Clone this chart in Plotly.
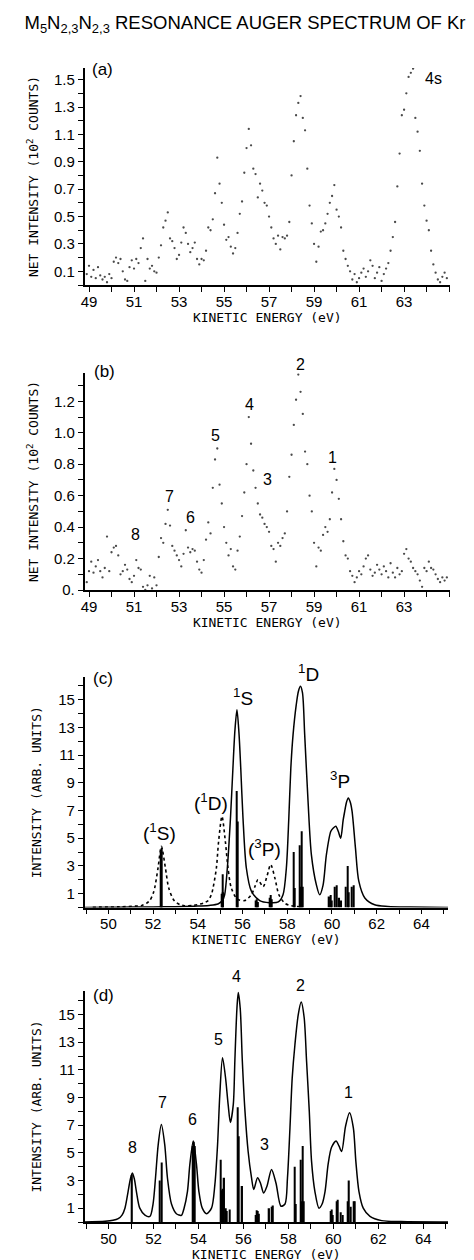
import plotly.graph_objects as go

# ---------------- data ----------------
# (a), (b): measured net intensity (10^2 counts) on a 0.1 eV grid starting at 48.9 eV
AB_START = 48.9
AB_STEP = 0.1
a_counts = [
    0.08, 0.14, 0.06, 0.11, 0.05, 0.13, 0.07, 0.04, 0.06, 0.02,
    0.08, 0.05, 0.17, 0.20, 0.16, 0.19, 0.10, 0.04, 0.03, 0.13,
    0.18, 0.12, 0.19, 0.16, 0.27, 0.34, 0.03, 0.19, 0.12, 0.14,
    0.10, 0.09, 0.20, 0.29, 0.42, 0.47, 0.53, 0.34, 0.32, 0.27,
    0.19, 0.22, 0.31, 0.42, 0.38, 0.30, 0.24, 0.27, 0.31, 0.19,
    0.15, 0.19, 0.18, 0.25, 0.42, 0.40, 0.48, 0.67, 0.93, 0.74,
    0.60, 0.44, 0.33, 0.35, 0.28, 0.23, 0.27, 0.38, 0.52, 0.61,
    0.82, 1.00, 1.14, 1.02, 0.85, 0.81, 0.64, 0.74, 0.69, 0.60,
    0.58, 0.50, 0.42, 0.34, 0.30, 0.36, 0.26, 0.35, 0.34, 0.36,
    0.46, 0.80, 1.05, 1.24, 1.33, 1.38, 1.22, 1.13, 0.85, 0.58,
    0.45, 0.30, 0.17, 0.28, 0.39, 0.40, 0.45, 0.52, 0.60, 0.65,
    0.73, 0.55, 0.50, 0.42, 0.25, 0.19, 0.14, 0.10, 0.04, 0.08,
    0.02, 0.05, 0.09, 0.12, 0.06, 0.10, 0.18, 0.14, 0.05, 0.09,
    0.13, 0.03, 0.08, 0.12, 0.16, 0.25, 0.35, 0.46, 0.72, 0.96,
    1.24, 1.28, 1.40, 1.52, 1.55, 1.58, 1.22, 1.12, 0.98, 0.74,
    0.58, 0.47, 0.40, 0.25, 0.15, 0.09, 0.04, 0.02, 0.06, 0.09,
    0.05,
]
b_counts = [
    0.05, 0.12, 0.18, 0.11, 0.15, 0.19, 0.12, 0.08, 0.14, 0.34,
    0.12, 0.24, 0.27, 0.28, 0.22, 0.10, 0.12, 0.16, 0.13, 0.07,
    0.05, 0.09, 0.19, 0.14, 0.13, 0.02, 0.00, 0.03, 0.09, 0.01,
    0.08, 0.03, 0.21, 0.33, 0.30, 0.42, 0.51, 0.41, 0.28, 0.25,
    0.22, 0.19, 0.15, 0.23, 0.38, 0.27, 0.24, 0.26, 0.25, 0.18,
    0.13, 0.11, 0.19, 0.32, 0.43, 0.36, 0.65, 0.83, 0.90, 0.67,
    0.55, 0.40, 0.30, 0.22, 0.26, 0.15, 0.13, 0.25, 0.34, 0.47,
    0.62, 0.80, 1.10, 0.93, 0.76, 0.65, 0.55, 0.48, 0.46, 0.42,
    0.40, 0.37, 0.28, 0.26, 0.18, 0.30, 0.28, 0.33, 0.36, 0.50,
    0.72, 0.86, 1.05, 1.21, 1.37, 1.26, 1.12, 0.88, 0.80, 0.60,
    0.50, 0.30, 0.15, 0.27, 0.25, 0.35, 0.40, 0.37, 0.45, 0.62,
    0.77, 0.70, 0.58, 0.45, 0.31, 0.22, 0.20, 0.12, 0.09, 0.05,
    0.08, 0.12, 0.10, 0.15, 0.20, 0.22, 0.13, 0.09, 0.11, 0.16,
    0.13, 0.10, 0.15, 0.12, 0.08, 0.17, 0.11, 0.08, 0.14, 0.10,
    0.12, 0.23, 0.26, 0.20, 0.18, 0.14, 0.12, 0.10, 0.06, 0.02,
    0.14, 0.12, 0.18, 0.14, 0.13, 0.10, 0.07, 0.05, 0.08, 0.06,
    0.08,
]
ab_energy = [round(AB_START + i * AB_STEP, 2) for i in range(len(a_counts))]

# (c): calculated spectrum, solid (main lines), dotted (satellites), sticks
c_solid_energy = [48.94, 50.0, 51.0, 52.0, 53.0, 54.0, 54.5, 54.9, 55.1, 55.2,
                  55.32, 55.46, 55.57, 55.66, 55.75, 55.84, 55.92, 56.02, 56.17, 56.39,
                  56.77, 57.2, 57.6, 57.81, 57.96, 58.07, 58.16, 58.26, 58.4, 58.5,
                  58.59, 58.68, 58.78, 58.93, 59.08, 59.3, 59.45, 59.6, 59.75, 59.95,
                  60.07, 60.17, 60.28, 60.39, 60.5, 60.57, 60.65, 60.73, 60.82, 60.9,
                  61.05, 61.2, 61.47, 61.91, 62.5, 63.5, 65.2]
c_solid_int = [0.0, 0.02, 0.03, 0.04, 0.06, 0.1, 0.15, 0.25, 0.5, 0.92,
               2.85, 6.46, 10.06, 12.8, 14.27, 12.6, 10.06, 6.46, 2.85, 1.2,
               0.5, 0.35, 0.4, 0.92, 2.85, 6.46, 10.06, 12.47, 14.6, 15.6,
               15.96, 15.5, 12.47, 7.66, 3.8, 1.65, 0.92, 1.6, 3.8, 5.5,
               5.75, 5.86, 5.5, 5.0, 6.3, 6.94, 7.6, 7.9, 7.6, 6.94,
               4.3, 1.9, 0.69, 0.2, 0.08, 0.03, 0.0]
c_dot_energy = [49.3, 50.5, 51.2, 51.47, 51.7, 51.85, 52.0, 52.07, 52.22, 52.37,
                52.55, 52.7, 52.94, 53.2, 53.41, 53.8, 54.1, 54.3, 54.46, 54.6,
                54.68, 54.83, 54.93, 55.08, 55.23, 55.35, 55.5, 55.77, 56.1, 56.39,
                56.55, 56.69, 56.92, 57.1, 57.26, 57.45, 57.63, 57.9, 58.2, 58.6]
c_dot_int = [0.02, 0.05, 0.1, 0.13, 0.3, 0.5, 1.0, 1.4, 2.85, 4.41,
             2.85, 1.4, 0.5, 0.2, 0.13, 0.15, 0.25, 0.35, 0.5, 0.9,
             1.4, 2.85, 4.78, 6.58, 4.78, 2.85, 1.4, 0.6, 0.5, 0.92,
             1.5, 2.0, 1.5, 2.3, 3.1, 2.1, 0.9, 0.3, 0.12, 0.05]
c_stick_energy = [52.34, 52.38, 55.06, 55.1, 55.14, 55.75, 55.79, 56.6, 56.65, 56.7,
                  57.2, 57.25, 57.3, 58.29, 58.33, 58.56, 58.6, 58.65, 58.69, 59.88,
                  59.93, 59.98, 60.14, 60.2, 60.33, 60.42, 60.63, 60.7, 60.76, 60.9,
                  60.96]
c_stick_int = [4.0, 4.3, 1.0, 2.4, 1.1, 8.4, 6.2, 0.5, 0.6, 0.4,
               0.7, 0.9, 0.6, 4.0, 1.4, 4.5, 1.5, 5.5, 1.5, 0.8,
               0.9, 0.5, 1.5, 1.6, 0.7, 0.5, 1.5, 3.0, 1.1, 1.5,
               1.6]

# (d): total calculated spectrum and sticks
d_curve_energy = [48.94, 49.84, 50.2, 50.43, 50.6, 50.73, 50.87, 50.97, 51.06, 51.15,
                  51.24, 51.39, 51.62, 51.84, 51.98, 52.09, 52.21, 52.35, 52.5, 52.62,
                  52.8, 53.02, 53.24, 53.36, 53.51, 53.62, 53.77, 53.91, 54.02, 54.17,
                  54.36, 54.58, 54.73, 54.85, 54.95, 55.07, 55.2, 55.32, 55.42, 55.55,
                  55.62, 55.71, 55.77, 55.86, 55.95, 56.07, 56.21, 56.36, 56.46, 56.63,
                  56.76, 56.9, 57.05, 57.25, 57.45, 57.67, 57.85, 57.96, 58.07, 58.17,
                  58.29, 58.44, 58.57, 58.7, 58.81, 58.93, 59.03, 59.18, 59.36, 59.5,
                  59.63, 59.77, 59.92, 60.12, 60.25, 60.37, 60.54, 60.72, 60.89, 61.0,
                  61.14, 61.33, 61.63, 62.15, 63.0, 65.1]
d_curve_int = [0.0, 0.05, 0.12, 0.24, 0.5, 1.0, 2.2, 3.1, 3.55, 3.1,
               2.2, 1.0, 0.5, 0.4, 1.3, 3.2, 5.6, 7.05, 5.6, 3.2,
               1.3, 0.6, 0.48, 1.0, 2.2, 4.2, 5.85, 4.2, 2.2, 1.0,
               0.6, 1.0, 2.7, 5.6, 9.2, 11.88, 10.5, 8.5, 7.2, 8.5,
               11.7, 15.4, 16.6, 15.4, 11.7, 8.0, 5.1, 3.2, 2.35, 3.2,
               2.8, 2.1, 2.6, 3.8, 2.8, 1.14, 1.3, 3.2, 6.8, 10.4,
               12.8, 15.0, 15.9, 14.8, 11.6, 8.0, 4.4, 2.2, 1.0, 1.3,
               2.2, 4.2, 5.4, 5.86, 5.5, 5.1, 6.9, 7.9, 6.8, 4.4,
               2.2, 1.0, 0.4, 0.1, 0.03, 0.0]
d_stick_energy = [51.05, 52.27, 52.36, 53.74, 53.78, 53.82, 54.99, 55.06, 55.1, 55.15,
                  55.2, 55.25, 55.4, 55.74, 55.8, 55.95, 56.55, 56.6, 56.65, 56.7,
                  57.15, 57.25, 57.32, 58.29, 58.33, 58.56, 58.6, 58.65, 58.69, 59.88,
                  59.93, 59.98, 60.14, 60.2, 60.33, 60.42, 60.63, 60.7, 60.76, 60.9,
                  60.96]
d_stick_int = [3.4, 3.0, 4.3, 5.5, 5.8, 5.5, 4.5, 2.3, 2.4, 3.2,
               1.0, 0.8, 0.9, 8.3, 6.2, 2.6, 0.5, 0.85, 0.8, 0.6,
               1.0, 1.1, 1.2, 4.0, 1.3, 4.5, 1.5, 5.5, 1.5, 0.8,
               0.9, 0.5, 1.5, 1.6, 0.7, 0.5, 1.5, 3.0, 1.1, 1.5,
               1.5]

# labelled tick values / labels (unlabelled ticks are drawn as minor ticks)
ab_xtick_vals = [49, 51, 53, 55, 57, 59, 61, 63]
ab_xtick_text = ["49", "51", "53", "55", "57", "59", "61", "63"]
cd_xtick_vals = [50, 52, 54, 56, 58, 60, 62, 64]
cd_xtick_text = ["50", "52", "54", "56", "58", "60", "62", "64"]
a_ytick_vals = [0.1, 0.3, 0.5, 0.7, 0.9, 1.1, 1.3, 1.5]
a_ytick_text = ["0.1", "0.3", "0.5", "0.7", "0.9", "1.1", "1.3", "1.5"]
b_ytick_vals = [0.0, 0.2, 0.4, 0.6, 0.8, 1.0, 1.2]
b_ytick_text = ["0.", "0.2", "0.4", "0.6", "0.8", "1.0", "1.2"]
cd_ytick_vals = [1, 3, 5, 7, 9, 11, 13, 15]
cd_ytick_text = ["1", "3", "5", "7", "9", "11", "13", "15"]

# peak labels: (text, energy, intensity)
a_labels = [("(a)", 49.62, 1.575), ("4s", 64.29, 1.505)]
b_labels = [("(b)", 49.71, 1.39), ("2", 58.38, 1.436), ("4", 56.12, 1.18), ("5", 54.62, 0.983),
            ("1", 59.84, 0.842), ("3", 56.92, 0.70), ("7", 52.58, 0.593), ("6", 53.51, 0.459),
            ("8", 51.08, 0.351)]
c_labels = [("(c)", 49.76, 16.49), ("<sup>1</sup>S", 56.0, 15.2), ("<sup>1</sup>D", 58.94, 16.9),
            ("<sup>3</sup>P", 60.35, 9.2), ("(<sup>1</sup>D)", 54.6, 7.6), ("(<sup>1</sup>S)", 52.3, 5.45),
            ("(<sup>3</sup>P)", 57.0, 4.3)]
d_labels = [("(d)", 49.76, 16.38), ("4", 55.71, 17.73), ("2", 58.54, 17.08), ("5", 54.88, 13.21),
            ("1", 60.69, 9.35), ("7", 52.39, 8.62), ("6", 53.73, 7.41), ("3", 56.92, 5.6),
            ("8", 51.08, 5.36)]

TITLE = "M<sub>5</sub>N<sub>2,3</sub>N<sub>2,3</sub> RESONANCE AUGER SPECTRUM OF Kr"

# ---------------- layout geometry ----------------
W, H = 474, 1260
L, R, T, B = 76, 32, 40, 46
PW, PH = W - L - R, H - T - B


def dom_x(p0, p1):
    return [max(0.0, (p0 - L) / PW), min(1.0, (p1 - L) / PW)]


def dom_y(top, bot):
    return [max(0.0, (H - B - bot) / PH), min(1.0, (H - B - top) / PH)]


TICK_FONT = dict(family="Liberation Sans", size=15, color="black")
AX_FONT = dict(family="DejaVu Sans Mono", size=13, color="black")


def minor_cfg(step, start):
    return dict(dtick=step, tick0=start, ticks="outside", ticklen=5, tickwidth=1.2,
                tickcolor="black", showgrid=False)


def xcfg(domain, rng, vals, text, anchor):
    return dict(domain=domain, range=rng, anchor=anchor, showline=True, linecolor="black",
                linewidth=1.5, ticks="outside", ticklen=5, tickwidth=1.2, tickcolor="black",
                tickmode="array", tickvals=vals, ticktext=text, tickfont=TICK_FONT,
                ticklabelstandoff=-3, minor=minor_cfg(1, 49),
                showgrid=False, zeroline=False, automargin=False,
                title=dict(text="KINETIC ENERGY (eV)", font=AX_FONT, standoff=0))


def ycfg(domain, rng, vals, text, anchor, title, standoff, step):
    return dict(domain=domain, range=rng, anchor=anchor, showline=True, linecolor="black",
                linewidth=1.5, ticks="outside", ticklen=5, tickwidth=1.2, tickcolor="black",
                tickmode="array", tickvals=vals, ticktext=text, tickfont=TICK_FONT,
                minor=minor_cfg(step, 0),
                showgrid=False, zeroline=False, automargin=False,
                title=dict(text=title, font=AX_FONT, standoff=standoff))


fig = go.Figure()

dot_marker = dict(size=2.3, color="#4a4a4a")
fig.add_trace(go.Scatter(x=ab_energy, y=a_counts, mode="markers", marker=dot_marker,
                         xaxis="x", yaxis="y", showlegend=False))
fig.add_trace(go.Scatter(x=ab_energy, y=b_counts, mode="markers", marker=dot_marker,
                         xaxis="x2", yaxis="y2", showlegend=False))

bar_kw = dict(marker=dict(color="black", line=dict(width=0)), width=0.06, showlegend=False)
fig.add_trace(go.Bar(x=c_stick_energy, y=c_stick_int, xaxis="x3", yaxis="y3", **bar_kw))
fig.add_trace(go.Scatter(x=c_dot_energy, y=c_dot_int, mode="lines",
                         line=dict(color="black", width=1.6, dash="dot", shape="spline", smoothing=0.8),
                         xaxis="x3", yaxis="y3", showlegend=False))
fig.add_trace(go.Scatter(x=c_solid_energy, y=c_solid_int, mode="lines",
                         line=dict(color="black", width=1.5, shape="spline", smoothing=0.8),
                         xaxis="x3", yaxis="y3", showlegend=False))

fig.add_trace(go.Bar(x=d_stick_energy, y=d_stick_int, xaxis="x4", yaxis="y4", **bar_kw))
fig.add_trace(go.Scatter(x=d_curve_energy, y=d_curve_int, mode="lines",
                         line=dict(color="black", width=1.5, shape="spline", smoothing=0.8),
                         xaxis="x4", yaxis="y4", showlegend=False))

ab_xdom = dom_x(76.5, 442)
cd_xdom = dom_x(76.7, 440)
ab_xrange = [48.8, 65.04]
cd_xrange = [48.94, 65.19]
a_yrange = [0, 1.585]
b_yrange = [0, 1.38]
c_yrange = [0, 16.63]
d_yrange = [0, 16.7]

fig.update_layout(
    width=W, height=H, autosize=False,
    margin=dict(l=L, r=R, t=T, b=B),
    paper_bgcolor="white", plot_bgcolor="white",
    barmode="overlay", template="none",
    title=dict(text=TITLE, x=0.5, xanchor="center", y=1 - 15 / H, yanchor="middle",
               font=dict(family="Liberation Sans", size=18.5, color="black")),
    xaxis=xcfg(ab_xdom, ab_xrange, ab_xtick_vals, ab_xtick_text, "y"),
    yaxis=ycfg(dom_y(60, 277), a_yrange, a_ytick_vals, a_ytick_text, "x",
               "NET INTENSITY (10<sup>2</sup> COUNTS)", 12, 0.1),
    xaxis2=xcfg(ab_xdom, ab_xrange, ab_xtick_vals, ab_xtick_text, "y2"),
    yaxis2=ycfg(dom_y(365, 582), b_yrange, b_ytick_vals, b_ytick_text, "x2",
                "NET INTENSITY (10<sup>2</sup> COUNTS)", 12, 0.1),
    xaxis3=xcfg(cd_xdom, cd_xrange, cd_xtick_vals, cd_xtick_text, "y3"),
    yaxis3=ycfg(dom_y(669, 899.5), c_yrange, cd_ytick_vals, cd_ytick_text, "x3",
                "INTENSITY (ARB. UNITS)", 14, 1),
    xaxis4=xcfg(cd_xdom, [48.94, 65.1], cd_xtick_vals, cd_xtick_text, "y4"),
    yaxis4=ycfg(dom_y(983, 1214), d_yrange, cd_ytick_vals, cd_ytick_text, "x4",
                "INTENSITY (ARB. UNITS)", 14, 1),
)

annotations = []
for labels, xr, yr, yrng in [(a_labels, "x", "y", a_yrange), (b_labels, "x2", "y2", b_yrange),
                             (c_labels, "x3", "y3", c_yrange), (d_labels, "x4", "y4", d_yrange)]:
    for text, ex, iy in labels:
        size = 17 if text.startswith("(") and len(text) == 3 else 16
        if "sup" in text:
            size = 19
        annotations.append(dict(text=text, x=ex, xref=xr,
                                y=(iy - yrng[0]) / (yrng[1] - yrng[0]), yref=yr + " domain",
                                showarrow=False, xanchor="center", yanchor="middle",
                                font=dict(family="Liberation Sans", size=size, color="black")))
fig.update_layout(annotations=annotations)

fig.write_html("out.html")
